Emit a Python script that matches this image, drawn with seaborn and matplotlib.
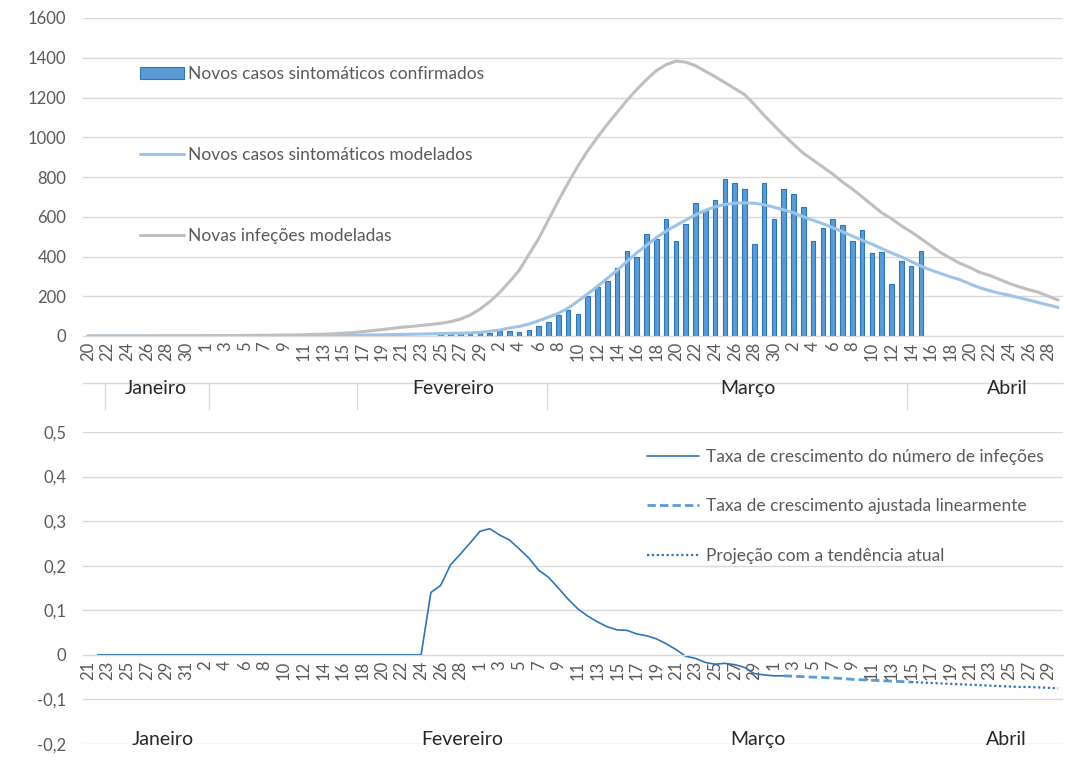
import matplotlib
matplotlib.use("Agg")
import matplotlib.pyplot as plt
import matplotlib.transforms as mtransforms
from matplotlib.lines import Line2D
from matplotlib.patches import Patch
import seaborn as sns
import numpy as np

# ---- data ----
# top chart: 100 daily categories
top_tick_labels = ["20", "22", "24", "26", "28", "30",
                   "1", "3", "5", "7", "9", "11", "13", "15", "17", "19", "21", "23", "25", "27", "29",
                   "2", "4", "6", "8", "10", "12", "14", "16", "18", "20", "22", "24", "26", "28", "30",
                   "2", "4", "6", "8", "10", "12", "14", "16", "18", "20", "22", "24", "26", "28"]

new_infections = [0, 0, 0, 0, 0, 0, 0, 1, 1, 1, 1, 1, 2, 2, 2, 2, 3, 3, 4, 4,
                  5, 5, 6, 8, 9, 11, 14, 17, 22, 27,
                  32, 38, 44, 48, 53, 58, 64, 72, 85, 105,
                  135, 172, 218, 272, 330, 410, 490, 585, 680, 770,
                  855, 932, 1000, 1065, 1125, 1185, 1240, 1290, 1335, 1365,
                  1383, 1378, 1360, 1332, 1305, 1275, 1245, 1215, 1165, 1110,
                  1060, 1010, 965, 920, 885, 850, 815, 775, 740, 700,
                  660, 620, 590, 555, 524, 490, 455, 420, 392, 365,
                  345, 320, 305, 285, 265, 248, 233, 220, 200, 181]

modeled_cases = [0] * 21 + [1, 1, 2, 2, 3, 3, 4, 5, 5, 6,
                            7, 8, 9, 10, 11, 12, 13, 14, 15, 18,
                            24, 30, 40, 48, 60, 77, 95, 114, 140, 175,
                            212, 250, 290, 330, 375, 418, 456, 495, 528, 556,
                            583, 610, 632, 650, 662, 668, 670, 668, 660, 648,
                            635, 620, 600, 582, 565, 545, 525, 503, 482, 462,
                            440, 418, 398, 375, 352, 332, 315, 298, 283, 262,
                            243, 228, 215, 205, 193, 181, 168, 156, 144]

bars_start = 36
confirmed_cases = [17, 12, 15, 12, 15, 17, 24, 24, 22, 29,
                   50, 68, 105, 130, 112, 200, 247, 276, 344, 427,
                   395, 514, 489, 589, 477, 565, 670, 634, 683, 789,
                   770, 738, 463, 770, 588, 738, 713, 648, 477, 541,
                   591, 561, 477, 534, 417, 425, 264, 376, 353, 428]

# bottom chart
bottom_tick_labels = ["21", "23", "25", "27", "29", "31",
                      "2", "4", "6", "8", "10", "12", "14", "16", "18", "20", "22", "24", "26", "28",
                      "1", "3", "5", "7", "9", "11", "13", "15", "17", "19", "21", "23", "25", "27", "29",
                      "1", "3", "5", "7", "9", "11", "13", "15", "17", "19", "21", "23", "25", "27", "29"]

growth_start = 1
growth_rate = [0.0] * 34 + [0.140, 0.156, 0.202, 0.226, 0.251, 0.277, 0.283, 0.269, 0.258, 0.238,
                            0.217, 0.190, 0.174, 0.150, 0.125, 0.103, 0.087, 0.074, 0.063, 0.056,
                            0.055, 0.047, 0.043, 0.036, 0.025, 0.012, -0.003, -0.008, -0.017, -0.021,
                            -0.019, -0.022, -0.028, -0.042, -0.045, -0.047, -0.047]

fit_start = 71
fitted_rate = [-0.047, -0.048, -0.049, -0.050, -0.051, -0.052, -0.053, -0.055, -0.056, -0.057,
               -0.058, -0.059, -0.060, -0.061]

proj_start = 84
projected_rate = [-0.061, -0.062, -0.063, -0.064, -0.065, -0.066, -0.067, -0.068, -0.069, -0.070,
                  -0.071, -0.072, -0.072, -0.073, -0.074, -0.075]

months = ["Janeiro", "Fevereiro", "Março", "Abril"]
top_month_pos = [6.9, 37.3, 67.4, 93.8]
top_month_seps = [1.7, 12.4, 27.5, 46.8, 83.6]
bottom_month_pos = [7.6, 38.2, 68.4, 93.7]

# ---- style ----
sns.set_style("white")
plt.rcParams["font.family"] = ["Lato", "DejaVu Sans"]
TXT = "#595959"
GRID = "#D9D9D9"
BAR_FILL = "#5B9BD5"
BAR_EDGE = "#2E75B6"
LIGHT_BLUE = "#9DC3E6"
GRAY = "#BFBFBF"
DARK_BLUE = "#2E75B6"
TICK_FS = 12
LEG_FS = 12.5

W, H = 1068, 771
fig = plt.figure(figsize=(W / 100, H / 100), dpi=100)
ax1 = fig.add_axes([83 / W, 1 - 336 / H, 980 / W, 318 / H])
ax2 = fig.add_axes([83 / W, 1 - 744 / H, 980 / W, 312 / H])

# ---- top chart ----
days = np.arange(len(new_infections))
bar_x = np.arange(bars_start, bars_start + len(confirmed_cases))
sns.barplot(x=bar_x, y=confirmed_cases, native_scale=True, width=0.45,
            color=BAR_FILL, edgecolor=BAR_EDGE, linewidth=0.8, saturation=1,
            errorbar=None, ax=ax1, zorder=2)
sns.lineplot(x=days, y=modeled_cases, color=LIGHT_BLUE, linewidth=2.2, ax=ax1, zorder=3)
sns.lineplot(x=days, y=new_infections, color=GRAY, linewidth=2.2, ax=ax1, zorder=3)

ax1.set_xlim(-0.5, 99.5)
ax1.set_ylim(0, 1600)
ax1.set_yticks(range(0, 1601, 200))
ax1.yaxis.grid(True, color=GRID, linewidth=1)
ax1.set_axisbelow(True)
for s in ax1.spines.values():
    s.set_visible(False)
ax1.spines["bottom"].set_visible(True)
ax1.spines["bottom"].set_color(GRID)
ax1.set_xticks(range(0, 100, 2))
ax1.set_xticklabels(top_tick_labels, rotation=90)
ax1.tick_params(axis="both", length=0, labelsize=TICK_FS, labelcolor=TXT)
ax1.tick_params(axis="x", pad=4)
ax1.tick_params(axis="y", pad=12)
ax1.set_xlabel("")
ax1.set_ylabel("")

# month row under the day labels
trans1 = mtransforms.blended_transform_factory(ax1.transData, ax1.transAxes)
ax1.plot([-0.5, 99.5], [-0.148, -0.148], transform=trans1, color=GRID, linewidth=1, clip_on=False)
for sx in top_month_seps:
    ax1.plot([sx, sx], [-0.148, -0.228], transform=trans1, color=GRID, linewidth=1, clip_on=False)
for name, mx in zip(months, top_month_pos):
    ax1.text(mx, -0.166, name, transform=trans1, ha="center", va="center",
             fontsize=14, color="#262626")

handles1 = [Patch(facecolor=BAR_FILL, edgecolor=BAR_EDGE, linewidth=0.8),
            Line2D([], [], color=LIGHT_BLUE, linewidth=2.2),
            Line2D([], [], color=GRAY, linewidth=2.2)]
labels1 = ["Novos casos sintomáticos confirmados",
           "Novos casos sintomáticos modelados",
           "Novas infeções modeladas"]
leg1 = ax1.legend(handles1, labels1, loc="upper left", bbox_to_anchor=(0.058, 0.85),
                  frameon=False, borderpad=0, borderaxespad=0, labelspacing=3.75,
                  handlelength=2.53, handleheight=0.7, handletextpad=0.25, fontsize=LEG_FS)
for t in leg1.get_texts():
    t.set_color(TXT)

# ---- bottom chart ----
sns.lineplot(x=np.arange(growth_start, growth_start + len(growth_rate)), y=growth_rate,
             color=DARK_BLUE, linewidth=1.2, ax=ax2)
sns.lineplot(x=np.arange(fit_start, fit_start + len(fitted_rate)), y=fitted_rate,
             color=BAR_FILL, linewidth=2, linestyle=(0, (3, 1.5)), ax=ax2)
sns.lineplot(x=np.arange(proj_start, proj_start + len(projected_rate)), y=projected_rate,
             color=DARK_BLUE, linewidth=1.6, linestyle=(0, (1, 1.2)), ax=ax2)

ax2.set_xlim(-0.5, 99.5)
ax2.set_ylim(-0.2, 0.5)
yt = [-0.2, -0.1, 0, 0.1, 0.2, 0.3, 0.4, 0.5]
ax2.set_yticks(yt)
ax2.set_yticklabels(["0" if v == 0 else f"{v:.1f}".replace(".", ",") for v in yt])
ax2.yaxis.grid(True, color=GRID, linewidth=1)
ax2.set_axisbelow(True)
for s in ax2.spines.values():
    s.set_visible(False)
ax2.spines["bottom"].set_visible(True)
ax2.spines["bottom"].set_position(("data", 0))
ax2.spines["bottom"].set_color(GRID)
ax2.set_xticks(range(0, 100, 2))
ax2.set_xticklabels(bottom_tick_labels, rotation=90)
ax2.tick_params(axis="both", length=0, labelsize=TICK_FS, labelcolor=TXT)
ax2.tick_params(axis="x", pad=4)
ax2.tick_params(axis="y", pad=12)
ax2.set_xlabel("")
ax2.set_ylabel("")
for name, mx in zip(months, bottom_month_pos):
    ax2.text(mx, -0.191, name, ha="center", va="center", fontsize=14, color="#262626")

handles2 = [Line2D([], [], color=DARK_BLUE, linewidth=1.2),
            Line2D([], [], color=BAR_FILL, linewidth=2, linestyle=(0, (3, 1.5))),
            Line2D([], [], color=DARK_BLUE, linewidth=1.6, linestyle=(0, (1, 1.2)))]
labels2 = ["Taxa de crescimento do número de infeções",
           "Taxa de crescimento ajustada linearmente",
           "Projeção com a tendência atual"]
leg2 = ax2.legend(handles2, labels2, loc="upper left", bbox_to_anchor=(0.575, 0.945),
                  frameon=False, borderpad=0, borderaxespad=0, labelspacing=1.92,
                  handlelength=3.05, handletextpad=0.35, fontsize=LEG_FS)
for t in leg2.get_texts():
    t.set_color(TXT)

fig.savefig("out.png", dpi=100)
